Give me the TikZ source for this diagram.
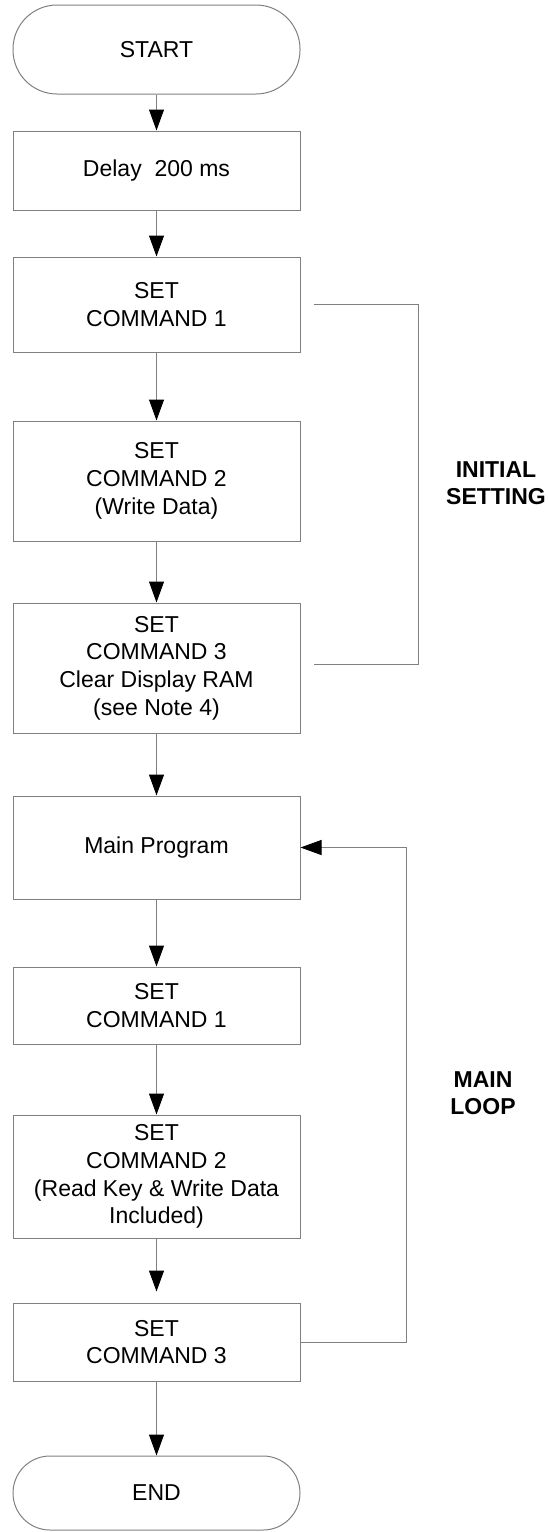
\documentclass[tikz,border=0pt]{standalone}
\usepackage{fontspec}
\setmainfont{Liberation Sans}
\usetikzlibrary{arrows.meta,calc,positioning}
\definecolor{linegray}{RGB}{128,128,128}

\begin{document}
\begin{tikzpicture}[x=0.5pt,y=-0.5pt,
  every node/.style={font=\fontsize{11.5pt}{13.85pt}\selectfont, align=center, inner sep=0pt},
  block/.style={draw=linegray, line width=0.5pt, minimum width=143.5pt},
  term/.style={block, rounded corners=#1},
  flow/.style={draw=linegray, line width=0.5pt, -{Triangle[length=10.5pt,width=7.5pt,color=black]}},
  side/.style={draw=linegray, line width=0.5pt},
  tag/.style={font=\fontsize{11.5pt}{13.5pt}\selectfont\bfseries}]

\useasboundingbox (0,0) rectangle (548,1532);

% flow chart
\node[term=22pt, minimum height=44.5pt] (start) at (156.5,49.5) {START};
\node[block, minimum height=39.5pt] (delay) at (156.5,170.5) {Delay\ \ 200 ms};
\node[block, minimum height=47.5pt] (cmdA) at (156.5,304.5) {SET\\COMMAND 1};
\node[block, minimum height=60pt] (cmdB) at (156.5,481) {SET\\COMMAND 2\\(Write Data)};
\node[block, minimum height=65pt] (cmdC) at (156.5,668) {SET\\COMMAND 3\\Clear Display RAM\\(see Note 4)};
\node[block, minimum height=51.5pt] (main) at (156.5,847.5) {Main Program};
\node[block, minimum height=38.5pt] (cmdD) at (156.5,1005.5) {SET\\COMMAND 1};
\node[block, minimum height=61.5pt] (cmdE) at (156.5,1176.5) {SET\\COMMAND 2\\(Read Key \& Write Data\\Included)};
\node[block, minimum height=39pt] (cmdF) at (156.5,1342) {SET\\COMMAND 3};
\node[term=18.5pt, minimum height=37pt] (stop) at (156.5,1493) {END};

\draw[flow] (start) -- (delay);
\draw[flow] (delay) -- (cmdA);
\draw[flow] (cmdA) -- (cmdB);
\draw[flow] (cmdB) -- (cmdC);
\draw[flow] (cmdC) -- (main);
\draw[flow] (main) -- (cmdD);
\draw[flow] (cmdD) -- (cmdE);
\draw[flow, shorten >=5.5pt] (cmdE) -- (cmdF);
\draw[flow] (cmdF) -- (stop);

% initial setting bracket
\coordinate (initTop) at ($(cmdA.east)+(13,0)$);
\coordinate (initBot) at ($(cmdC.east)+(13,-4)$);
\draw[side] (initTop) -| (418,664) -- (initBot);
\node[tag] (initLbl) at (496,483) {INITIAL\\SETTING};

% main loop
\draw[flow] (cmdF.east) -- ++(106,0) |- (main.east);
\node[tag] (loopLbl) at (483,1093) {MAIN\\LOOP};

\end{tikzpicture}
\end{document}
